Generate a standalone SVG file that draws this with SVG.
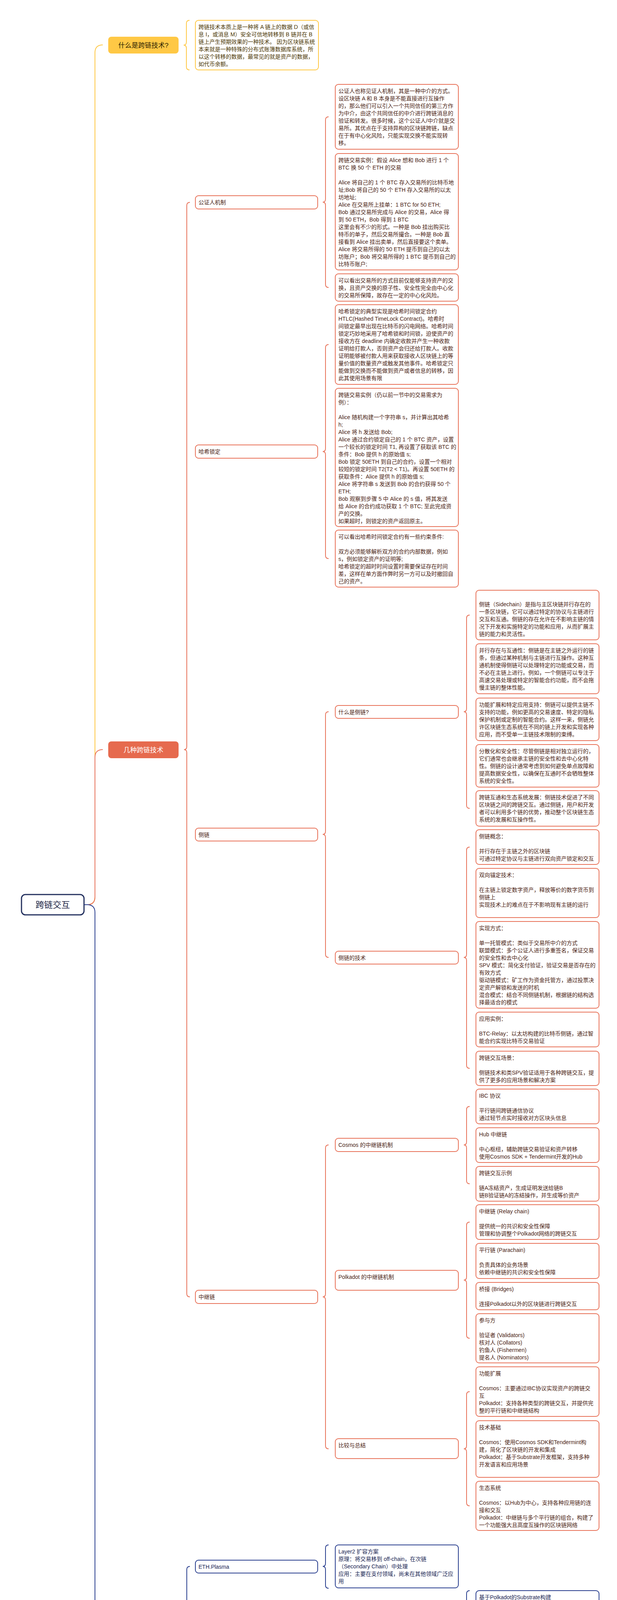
<svg xmlns="http://www.w3.org/2000/svg" width="1579" height="4765" viewBox="0 0 1579 4765">
<style>
text{font-family:'Liberation Sans','Noto Sans CJK SC',sans-serif;font-size:14px}
.rb{fill:#fff;stroke:#E8735A;stroke-width:2}
.bb{fill:#fff;stroke:#2A3F8F;stroke-width:2}
.yb{fill:#fff;stroke:#FFC845;stroke-width:2}
.rt{fill:#4A1D12}
.bt{fill:#172352}
.yt{fill:#4A3500}
.l1{font-size:17px;text-anchor:middle}
.br{fill:none;stroke:#E8735A;stroke-width:2}
.bbr{fill:none;stroke:#2A3F8F;stroke-width:2}
.ybr{fill:none;stroke:#FFC845;stroke-width:2}
</style>
<rect width="1579" height="4765" fill="#fff"/>

<g id="connectors">
<path class="ybr" d="M215 2316 H223 Q243 2316 243 2296 V135 Q243 115 263 115"/>
<path class="br" d="M215 2316 H223 Q243 2316 243 2296 V1939 Q243 1919 263 1919"/>
<path class="bbr" d="M215 2316 H223 Q243 2316 243 2336 V4278 Q243 4298 263 4298"/>
<path class="ybr" d="M485 52 Q477 52 477 60 V107.5 Q477 115.5 470 115.5 Q477 115.5 477 123.5 V171 Q477 179 485 179"/>
<path class="br" d="M486 518 Q478 518 478 526 V1911 Q478 1919 471 1919 Q478 1919 478 1927 V3312 Q478 3320 486 3320"/>
<path class="bbr" d="M486 4010 Q478 4010 478 4018 V4290 Q478 4298 471 4298 Q478 4298 478 4306 V4579 Q478 4587 486 4587"/>
<path class="br" d="M841 299 Q833 299 833 307 V509.5 Q833 517.5 826 517.5 Q833 517.5 833 525.5 V728 Q833 736 841 736"/>
<path class="br" d="M841 882 Q833 882 833 890 V1148 Q833 1156 826 1156 Q833 1156 833 1164 V1422 Q833 1430 841 1430"/>
<path class="br" d="M841 1822 Q833 1822 833 1830 V2128 Q833 2136 826 2136 Q833 2136 833 2144 V2443 Q833 2451 841 2451"/>
<path class="br" d="M841 2931 Q833 2931 833 2939 V3312 Q833 3320 826 3320 Q833 3320 833 3328 V3701 Q833 3709 841 3709"/>
<path class="bbr" d="M841 3955 Q833 3955 833 3963 V4002 Q833 4010 826 4010 Q833 4010 833 4018 V4058 Q833 4066 841 4066"/>
<path class="bbr" d="M841 4156 Q833 4156 833 4164 V4212 Q833 4220 826 4220 Q833 4220 833 4228 V4276 Q833 4284 841 4284"/>
<path class="bbr" d="M841 4353 Q833 4353 833 4361 V4381 Q833 4389 826 4389 Q833 4389 833 4397 V4417 Q833 4425 841 4425"/>
<path class="bbr" d="M841 4522 Q833 4522 833 4530 V4579 Q833 4587 826 4587 Q833 4587 833 4595 V4643 Q833 4651 841 4651"/>
<path class="br" d="M1202 1574.5 Q1194 1574.5 1194 1582.5 V1814 Q1194 1822 1187 1822 Q1194 1822 1194 1830 V2061.5 Q1194 2069.5 1202 2069.5"/>
<path class="br" d="M1202 2168.5 Q1194 2168.5 1194 2176.5 V2443 Q1194 2451 1187 2451 Q1194 2451 1194 2459 V2727 Q1194 2735 1202 2735"/>
<path class="br" d="M1202 2832.5 Q1194 2832.5 1194 2840.5 V2923 Q1194 2931 1187 2931 Q1194 2931 1194 2939 V3022.5 Q1194 3030.5 1202 3030.5"/>
<path class="br" d="M1202 3128.5 Q1194 3128.5 1194 3136.5 V3269 Q1194 3277 1187 3277 Q1194 3277 1194 3285 V3418 Q1194 3426 1202 3426"/>
<path class="br" d="M1202 3562.5 Q1194 3562.5 1194 3570.5 V3701 Q1194 3709 1187 3709 Q1194 3709 1194 3717 V3847 Q1194 3855 1202 3855"/>
<path class="bbr" d="M1202 4072 Q1194 4072 1194 4080 V4147 Q1194 4155 1187 4155 Q1194 4155 1194 4163 V4230 Q1194 4238 1202 4238"/>
<path class="bbr" d="M1202 4248 Q1194 4248 1194 4256 V4276 Q1194 4284 1187 4284 Q1194 4284 1194 4292 V4312 Q1194 4320 1202 4320"/>
</g>

<g id="root"><rect x="55" y="2290" width="160" height="52" rx="10" fill="#fff" stroke="#23305E" stroke-width="3"/><text x="135" y="2324" font-size="22" text-anchor="middle" fill="#1E2546" style="font-size:22px">跨链交互</text></g>

<g id="n-what"><rect x="277" y="94" width="180" height="43" rx="8" fill="#FFC845"/><text class="l1" x="367" y="121.5" fill="#2A2000">什么是跨链技术?</text></g>
<g id="n-tech"><rect x="277" y="1898" width="180" height="43" rx="8" fill="#E66A4E"/><text class="l1" x="367" y="1925.5" fill="#fff">几种跨链技术</text></g>
<g id="n-proj"><rect x="277" y="4277" width="180" height="43" rx="8" fill="#26398A"/><text class="l1" x="367" y="4304.5" fill="#fff">跨链相关项目概览</text></g>

<g id="what-text"><rect class="yb" x="500" y="52" width="315" height="127" rx="8"/><text class="yt"><tspan x="508" y="73.5">跨链技术本质上是一种将 A 链上的数据 D（或信</tspan><tspan x="508" y="92.5">息 I，或消息 M）安全可信地转移到 B 链并在 B</tspan><tspan x="508" y="111.5">链上产生预期效果的一种技术。 因为区块链系统</tspan><tspan x="508" y="130.5">本来就是一种特殊的分布式账簿数据库系统，所</tspan><tspan x="508" y="149.5">以这个转移的数据，最常见的就是资产的数据，</tspan><tspan x="508" y="168.5">如代币余额。</tspan></text></g>

<g id="n-notary"><rect class="rb" x="500" y="501" width="313" height="34" rx="8"/><text class="rt" x="508" y="522.5">公证人机制</text></g>
<g id="notary-1"><rect class="rb" x="858" y="216" width="315" height="166" rx="8"/><text class="rt"><tspan x="866" y="237.5">公证人也称见证人机制，其是一种中介的方式。</tspan><tspan x="866" y="256.5">设区块链 A 和 B 本身是不能直接进行互操作</tspan><tspan x="866" y="275.5">的，那么他们可以引入一个共同信任的第三方作</tspan><tspan x="866" y="294.5">为中介，由这个共同信任的中介进行跨链消息的</tspan><tspan x="866" y="313.5">验证和转发。很多时候，这个公证人/中介就是交</tspan><tspan x="866" y="332.5">易所。其优点在于支持异构的区块链跨链，缺点</tspan><tspan x="866" y="351.5">在于有中心化风险，只能实现交换不能实现转</tspan><tspan x="866" y="370.5">移。</tspan></text></g>
<g id="notary-2"><rect class="rb" x="858" y="393" width="315" height="298" rx="8"/><text class="rt"><tspan x="866" y="414.5">跨链交易实例：假设 Alice 想和 Bob 进行 1 个</tspan><tspan x="866" y="433.5">BTC 换 50 个 ETH 的交易</tspan><tspan x="866" y="471.5">Alice 将自己的 1 个 BTC 存入交易所的比特币地</tspan><tspan x="866" y="490.5">址;Bob 将自己的 50 个 ETH 存入交易所的以太</tspan><tspan x="866" y="509.5">坊地址;</tspan><tspan x="866" y="528.5">Alice 在交易所上挂单：1 BTC for 50 ETH;</tspan><tspan x="866" y="547.5">Bob 通过交易所完成与 Alice 的交易，Alice 得</tspan><tspan x="866" y="566.5">到 50 ETH，Bob 得到 1 BTC</tspan><tspan x="866" y="585.5">这里会有不少的形式。一种是 Bob 挂出购买比</tspan><tspan x="866" y="604.5">特币的单子，然后交易所撮合。一种是 Bob 直</tspan><tspan x="866" y="623.5">接看到 Alice 挂出卖单，然后直接要这个卖单。</tspan><tspan x="866" y="642.5">Alice 将交易所得的 50 ETH 提币到自己的以太</tspan><tspan x="866" y="661.5">坊账户；Bob 将交易所得的 1 BTC 提币到自己的</tspan><tspan x="866" y="680.5">比特币账户;</tspan></text></g>
<g id="notary-3"><rect class="rb" x="858" y="701" width="315" height="70" rx="8"/><text class="rt"><tspan x="866" y="722.5">可以看出交易所的方式目前仅能够支持资产的交</tspan><tspan x="866" y="741.5">换，且资产交换的原子性、安全性完全由中心化</tspan><tspan x="866" y="760.5">的交易所保障，故存在一定的中心化风险。</tspan></text></g>

<g id="n-hash"><rect class="rb" x="500" y="1139" width="313" height="34" rx="8"/><text class="rt" x="508" y="1160.5">哈希锁定</text></g>
<g id="hash-1"><rect class="rb" x="858" y="780" width="315" height="204" rx="8"/><text class="rt"><tspan x="866" y="801.5">哈希锁定的典型实现是哈希时间锁定合约</tspan><tspan x="866" y="820.5">HTLC(Hashed TimeLock Contract)。哈希时</tspan><tspan x="866" y="839.5">间锁定最早出现在比特币的闪电网络。哈希时间</tspan><tspan x="866" y="858.5">锁定巧妙地采用了哈希锁和时间锁，迫使资产的</tspan><tspan x="866" y="877.5">接收方在 deadline 内确定收款并产生一种收款</tspan><tspan x="866" y="896.5">证明给打款人，否则资产会归还给打款人。收款</tspan><tspan x="866" y="915.5">证明能够被付款人用来获取接收人区块链上的等</tspan><tspan x="866" y="934.5">量价值的数量资产或触发其他事件。哈希锁定只</tspan><tspan x="866" y="953.5">能做到交换而不能做到资产或者信息的转移，因</tspan><tspan x="866" y="972.5">此其使用场景有限</tspan></text></g>
<g id="hash-2"><rect class="rb" x="858" y="994" width="315" height="354" rx="8"/><text class="rt"><tspan x="866" y="1015.5">跨链交易实例（仍以前一节中的交易需求为</tspan><tspan x="866" y="1034.5">例）：</tspan><tspan x="866" y="1072.5">Alice 随机构建一个字符串 s，并计算出其哈希</tspan><tspan x="866" y="1091.5">h;</tspan><tspan x="866" y="1110.5">Alice 将 h 发送给 Bob;</tspan><tspan x="866" y="1129.5">Alice 通过合约锁定自己的 1 个 BTC 资产，设置</tspan><tspan x="866" y="1148.5">一个较长的锁定时间 T1, 再设置了获取该 BTC 的</tspan><tspan x="866" y="1167.5">条件：Bob 提供 h 的原始值 s;</tspan><tspan x="866" y="1186.5">Bob 锁定 50ETH 到自己的合约，设置一个相对</tspan><tspan x="866" y="1205.5">较短的锁定时间 T2(T2 &lt; T1)。再设置 50ETH 的</tspan><tspan x="866" y="1224.5">获取条件：Alice 提供 h 的原始值 s;</tspan><tspan x="866" y="1243.5">Alice 将字符串 s 发送到 Bob 的合约获得 50 个</tspan><tspan x="866" y="1262.5">ETH;</tspan><tspan x="866" y="1281.5">Bob 观察到步骤 5 中 Alice 的 s 值，将其发送</tspan><tspan x="866" y="1300.5">给 Alice 的合约成功获取 1 个 BTC; 至此完成资</tspan><tspan x="866" y="1319.5">产的交换。</tspan><tspan x="866" y="1338.5">如果超时，则锁定的资产返回原主。</tspan></text></g>
<g id="hash-3"><rect class="rb" x="858" y="1357" width="315" height="146" rx="8"/><text class="rt"><tspan x="866" y="1378.5">可以看出哈希时间锁定合约有一些约束条件:</tspan><tspan x="866" y="1416.5">双方必须能够解析双方的合约内部数据，例如</tspan><tspan x="866" y="1435.5">s，例如锁定资产的证明等;</tspan><tspan x="866" y="1454.5">哈希锁定的超时时间设置时需要保证存在时间</tspan><tspan x="866" y="1473.5">差，这样在单方面作弊时另一方可以及时撤回自</tspan><tspan x="866" y="1492.5">己的资产。</tspan></text></g>

<g id="n-side"><rect class="rb" x="500" y="2120" width="313" height="33" rx="8"/><text class="rt" x="508" y="2141.5">侧链</text></g>
<g id="n-side-what"><rect class="rb" x="858" y="1806" width="315" height="33" rx="8"/><text class="rt" x="866" y="1827.5">什么是侧链?</text></g>
<g id="sc-1"><rect class="rb" x="1218" y="1511" width="315" height="127" rx="8"/><text class="rt"><tspan x="1226" y="1551.5">侧链（Sidechain）是指与主区块链并行存在的</tspan><tspan x="1226" y="1570.5">一条区块链，它可以通过特定的协议与主链进行</tspan><tspan x="1226" y="1589.5">交互和互通。侧链的存在允许在不影响主链的情</tspan><tspan x="1226" y="1608.5">况下开发和实施特定的功能和应用，从而扩展主</tspan><tspan x="1226" y="1627.5">链的能力和灵活性。</tspan></text></g>
<g id="sc-2"><rect class="rb" x="1218" y="1648" width="315" height="128" rx="8"/><text class="rt"><tspan x="1226" y="1669.5">并行存在与互通性：侧链是在主链之外运行的链</tspan><tspan x="1226" y="1688.5">条，但通过某种机制与主链进行互操作。这种互</tspan><tspan x="1226" y="1707.5">通机制使得侧链可以处理特定的功能或交易，而</tspan><tspan x="1226" y="1726.5">不必在主链上进行。例如，一个侧链可以专注于</tspan><tspan x="1226" y="1745.5">高速交易处理或特定的智能合约功能，而不会拖</tspan><tspan x="1226" y="1764.5">慢主链的整体性能。</tspan></text></g>
<g id="sc-3"><rect class="rb" x="1218" y="1787" width="315" height="109" rx="8"/><text class="rt"><tspan x="1226" y="1808.5">功能扩展和特定应用支持：侧链可以提供主链不</tspan><tspan x="1226" y="1827.5">支持的功能，例如更高的交易速度、特定的隐私</tspan><tspan x="1226" y="1846.5">保护机制或定制的智能合约。这样一来，侧链允</tspan><tspan x="1226" y="1865.5">许区块链生态系统在不同的链上开发和实现各种</tspan><tspan x="1226" y="1884.5">应用，而不受单一主链技术限制的束缚。</tspan></text></g>
<g id="sc-4"><rect class="rb" x="1218" y="1906" width="315" height="109" rx="8"/><text class="rt"><tspan x="1226" y="1927.5">分散化和安全性：尽管侧链是相对独立运行的，</tspan><tspan x="1226" y="1946.5">它们通常也会继承主链的安全性和去中心化特</tspan><tspan x="1226" y="1965.5">性。侧链的设计通常考虑到如何避免单点故障和</tspan><tspan x="1226" y="1984.5">提高数据安全性，以确保在互通时不会牺牲整体</tspan><tspan x="1226" y="2003.5">系统的安全性。</tspan></text></g>
<g id="sc-5"><rect class="rb" x="1218" y="2024" width="315" height="91" rx="8"/><text class="rt"><tspan x="1226" y="2045.5">跨链互通和生态系统发展：侧链技术促进了不同</tspan><tspan x="1226" y="2064.5">区块链之间的跨链交互。通过侧链，用户和开发</tspan><tspan x="1226" y="2083.5">者可以利用多个链的优势，推动整个区块链生态</tspan><tspan x="1226" y="2102.5">系统的发展和互操作性。</tspan></text></g>

<g id="n-side-tech"><rect class="rb" x="858" y="2435" width="315" height="33" rx="8"/><text class="rt" x="866" y="2456.5">侧链的技术</text></g>
<g id="st-1"><rect class="rb" x="1218" y="2124" width="315" height="89" rx="8"/><text class="rt"><tspan x="1226" y="2145.5">侧链概念：</tspan><tspan x="1226" y="2183.5">并行存在于主链之外的区块链</tspan><tspan x="1226" y="2202.5">可通过特定协议与主链进行双向资产锁定和交互</tspan></text></g>
<g id="st-2"><rect class="rb" x="1218" y="2223" width="315" height="126" rx="8"/><text class="rt"><tspan x="1226" y="2244.5">双向锚定技术：</tspan><tspan x="1226" y="2282.5">在主链上锁定数字资产，释放等价的数字货币到</tspan><tspan x="1226" y="2301.5">侧链上</tspan><tspan x="1226" y="2320.5">实现技术上的难点在于不影响现有主链的运行</tspan></text></g>
<g id="st-3"><rect class="rb" x="1218" y="2359" width="315" height="222" rx="8"/><text class="rt"><tspan x="1226" y="2380.5">实现方式：</tspan><tspan x="1226" y="2418.5">单一托管模式：类似于交易所中介的方式</tspan><tspan x="1226" y="2437.5">联盟模式：多个公证人进行多重签名，保证交易</tspan><tspan x="1226" y="2456.5">的安全性和去中心化</tspan><tspan x="1226" y="2475.5">SPV 模式：简化支付验证，验证交易是否存在的</tspan><tspan x="1226" y="2494.5">有效方式</tspan><tspan x="1226" y="2513.5">驱动链模式：矿工作为资金托管方，通过投票决</tspan><tspan x="1226" y="2532.5">定资产解锁和发送的时机</tspan><tspan x="1226" y="2551.5">混合模式：结合不同侧链机制，根据链的结构选</tspan><tspan x="1226" y="2570.5">择最适合的模式</tspan></text></g>
<g id="st-4"><rect class="rb" x="1218" y="2591" width="315" height="89" rx="8"/><text class="rt"><tspan x="1226" y="2612.5">应用实例：</tspan><tspan x="1226" y="2650.5">BTC-Relay：以太坊构建的比特币侧链，通过智</tspan><tspan x="1226" y="2669.5">能合约实现比特币交易验证</tspan></text></g>
<g id="st-5"><rect class="rb" x="1218" y="2691" width="315" height="88" rx="8"/><text class="rt"><tspan x="1226" y="2712.5">跨链交互场景：</tspan><tspan x="1226" y="2750.5">侧链技术和类SPV验证适用于各种跨链交互，提</tspan><tspan x="1226" y="2769.5">供了更多的应用场景和解决方案</tspan></text></g>

<g id="n-relay"><rect class="rb" x="500" y="3303" width="313" height="34" rx="8"/><text class="rt" x="508" y="3324.5">中继链</text></g>
<g id="n-cosmos"><rect class="rb" x="858" y="2914" width="315" height="34" rx="8"/><text class="rt" x="866" y="2935.5">Cosmos 的中继链机制</text></g>
<g id="c-1"><rect class="rb" x="1218" y="2788" width="315" height="89" rx="8"/><text class="rt"><tspan x="1226" y="2809.5">IBC 协议</tspan><tspan x="1226" y="2847.5">平行链间跨链通信协议</tspan><tspan x="1226" y="2866.5">通过轻节点实时接收对方区块头信息</tspan></text></g>
<g id="c-2"><rect class="rb" x="1218" y="2887" width="315" height="89" rx="8"/><text class="rt"><tspan x="1226" y="2908.5">Hub 中继链</tspan><tspan x="1226" y="2946.5">中心枢纽，辅助跨链交易验证和资产转移</tspan><tspan x="1226" y="2965.5">使用Cosmos SDK + Tendermint开发的Hub</tspan></text></g>
<g id="c-3"><rect class="rb" x="1218" y="2986" width="315" height="89" rx="8"/><text class="rt"><tspan x="1226" y="3007.5">跨链交互示例</tspan><tspan x="1226" y="3045.5">链A冻结资产，生成证明发送给链B</tspan><tspan x="1226" y="3064.5">链B验证链A的冻结操作，并生成等价资产</tspan></text></g>
<g id="n-polkadot"><rect class="rb" x="858" y="3252" width="315" height="51" rx="8"/><text class="rt" x="866" y="3273.5">Polkadot 的中继链机制</text></g>
<g id="p-1"><rect class="rb" x="1218" y="3084" width="315" height="89" rx="8"/><text class="rt"><tspan x="1226" y="3105.5">中继链 (Relay chain)</tspan><tspan x="1226" y="3143.5">提供统一的共识和安全性保障</tspan><tspan x="1226" y="3162.5">管理和协调整个Polkadot网络的跨链交互</tspan></text></g>
<g id="p-2"><rect class="rb" x="1218" y="3183" width="315" height="90" rx="8"/><text class="rt"><tspan x="1226" y="3204.5">平行链 (Parachain)</tspan><tspan x="1226" y="3242.5">负责具体的业务场景</tspan><tspan x="1226" y="3261.5">依赖中继链的共识和安全性保障</tspan></text></g>
<g id="p-3"><rect class="rb" x="1218" y="3283" width="315" height="70" rx="8"/><text class="rt"><tspan x="1226" y="3304.5">桥接 (Bridges)</tspan><tspan x="1226" y="3342.5">连接Polkadot以外的区块链进行跨链交互</tspan></text></g>
<g id="p-4"><rect class="rb" x="1218" y="3363" width="315" height="126" rx="8"/><text class="rt"><tspan x="1226" y="3384.5">参与方</tspan><tspan x="1226" y="3422.5">验证者 (Validators)</tspan><tspan x="1226" y="3441.5">核对人 (Collators)</tspan><tspan x="1226" y="3460.5">钓鱼人 (Fishermen)</tspan><tspan x="1226" y="3479.5">提名人 (Nominators)</tspan></text></g>
<g id="n-compare"><rect class="rb" x="858" y="3683" width="315" height="51" rx="8"/><text class="rt" x="866" y="3704.5">比较与总结</text></g>
<g id="s-1"><rect class="rb" x="1218" y="3499" width="315" height="127" rx="8"/><text class="rt"><tspan x="1226" y="3520.5">功能扩展</tspan><tspan x="1226" y="3558.5">Cosmos：主要通过IBC协议实现资产的跨链交</tspan><tspan x="1226" y="3577.5">互</tspan><tspan x="1226" y="3596.5">Polkadot：支持各种类型的跨链交互，并提供完</tspan><tspan x="1226" y="3615.5">整的平行链和中继链结构</tspan></text></g>
<g id="s-2"><rect class="rb" x="1218" y="3637" width="315" height="145" rx="8"/><text class="rt"><tspan x="1226" y="3658.5">技术基础</tspan><tspan x="1226" y="3696.5">Cosmos：使用Cosmos SDK和Tendermint构</tspan><tspan x="1226" y="3715.5">建，简化了区块链的开发和集成</tspan><tspan x="1226" y="3734.5">Polkadot：基于Substrate开发框架，支持多种</tspan><tspan x="1226" y="3753.5">开发语言和应用场景</tspan></text></g>
<g id="s-3"><rect class="rb" x="1218" y="3792" width="315" height="126" rx="8"/><text class="rt"><tspan x="1226" y="3813.5">生态系统</tspan><tspan x="1226" y="3851.5">Cosmos：以Hub为中心，支持各种应用链的连</tspan><tspan x="1226" y="3870.5">接和交互</tspan><tspan x="1226" y="3889.5">Polkadot：中继链与多个平行链的组合，构建了</tspan><tspan x="1226" y="3908.5">一个功能强大且高度互操作的区块链网络</tspan></text></g>

<g id="n-plasma"><rect class="bb" x="500" y="3994" width="313" height="33" rx="8"/><text class="bt" x="508" y="4015.5">ETH.Plasma</text></g>
<g id="plasma-1"><rect class="bb" x="858" y="3955" width="315" height="110" rx="8"/><text class="bt"><tspan x="866" y="3976.5">Layer2 扩容方案</tspan><tspan x="866" y="3995.5">原理：将交易移到 off-chain，在次链</tspan><tspan x="866" y="4014.5">（Secondary Chain）中处理</tspan><tspan x="866" y="4033.5">应用：主要在支付领域，尚未在其他领域广泛应</tspan><tspan x="866" y="4052.5">用</tspan></text></g>
<g id="n-darwinia"><rect class="bb" x="500" y="4203" width="313" height="34" rx="8"/><text class="bt" x="508" y="4224.5">Polkadot.Darwinia</text></g>
<g id="n-darwin-net"><rect class="bb" x="858" y="4139" width="315" height="33" rx="8"/><text class="bt" x="866" y="4160.5">达尔文网络概述</text></g>
<g id="darwin-1"><rect class="bb" x="1218" y="4072" width="315" height="166" rx="8"/><text class="bt"><tspan x="1226" y="4093.5">基于Polkadot的Substrate构建</tspan><tspan x="1226" y="4112.5">用途：跨链游戏网络，支持游戏资产和操作的跨</tspan><tspan x="1226" y="4131.5">链交互</tspan><tspan x="1226" y="4150.5">运行模式</tspan><tspan x="1226" y="4169.5">Solo 模式：内部网络，支持多种子世界（子大</tspan><tspan x="1226" y="4188.5">陆）</tspan><tspan x="1226" y="4207.5">Polkadot 模式：作为Polkadot的Parachain接</tspan><tspan x="1226" y="4226.5">入Relay-chain</tspan></text></g>
<g id="n-asset"><rect class="bb" x="858" y="4267" width="315" height="34" rx="8"/><text class="bt" x="866" y="4288.5">星际资产标准</text></g>
<g id="asset-1"><rect class="bb" x="1218" y="4248" width="315" height="72" rx="8"/><text class="bt"><tspan x="1226" y="4269.5">资产跨链标准化</tspan><tspan x="1226" y="4288.5">设计目的：在达尔文网络内实现不同公链和游戏</tspan><tspan x="1226" y="4307.5">资产的唯一标识和跨链转移</tspan></text></g>
<g id="n-iris"><rect class="bb" x="500" y="4373" width="313" height="33" rx="8"/><text class="bt" x="508" y="4394.5">Cosmos.IRIS</text></g>
<g id="iris-1"><rect class="bb" x="858" y="4327" width="315" height="53" rx="8"/><text class="bt"><tspan x="866" y="4348.5">Cosmos生态项目</tspan><tspan x="866" y="4367.5">目标：解决跨链资产和服务互操作性问题</tspan></text></g>
<g id="iris-2"><rect class="bb" x="858" y="4389" width="315" height="72" rx="8"/><text class="bt"><tspan x="866" y="4410.5">网络结构</tspan><tspan x="866" y="4429.5">构建：使用Cosmos SDK + Tendermint</tspan><tspan x="866" y="4448.5">主要角色：消费者、提供者、Profiler</tspan></text></g>
<g id="n-summary"><rect class="bb" x="500" y="4561" width="313" height="52" rx="8"/><text class="bt" x="508" y="4582.5">总结与比较</text></g>
<g id="sum-1"><rect class="bb" x="858" y="4468" width="315" height="109" rx="8"/><text class="bt"><tspan x="866" y="4489.5">技术基础</tspan><tspan x="866" y="4527.5">Plasma、Darwinia：基于Substrate和Plasma</tspan><tspan x="866" y="4546.5">架构</tspan><tspan x="866" y="4565.5">IRIS：使用Cosmos SDK和Tendermint</tspan></text></g>
<g id="sum-2"><rect class="bb" x="858" y="4587" width="315" height="128" rx="8"/><text class="bt"><tspan x="866" y="4608.5">应用领域</tspan><tspan x="866" y="4646.5">Plasma：主要在支付领域，Layer2扩容方案</tspan><tspan x="866" y="4665.5">Darwinia：游戏资产和操作的跨链交互</tspan><tspan x="866" y="4684.5">IRIS：企业级应用和服务的跨链互操作性解决方</tspan><tspan x="866" y="4703.5">案</tspan></text></g>

<text x="620" y="4718" textLength="343" lengthAdjust="spacingAndGlyphs" fill="#BDBDBD" fill-opacity="0.85" style="font-size:30px">Presented with <tspan font-weight="bold" fill="#A8A8A8">xmind</tspan></text>
</svg>
